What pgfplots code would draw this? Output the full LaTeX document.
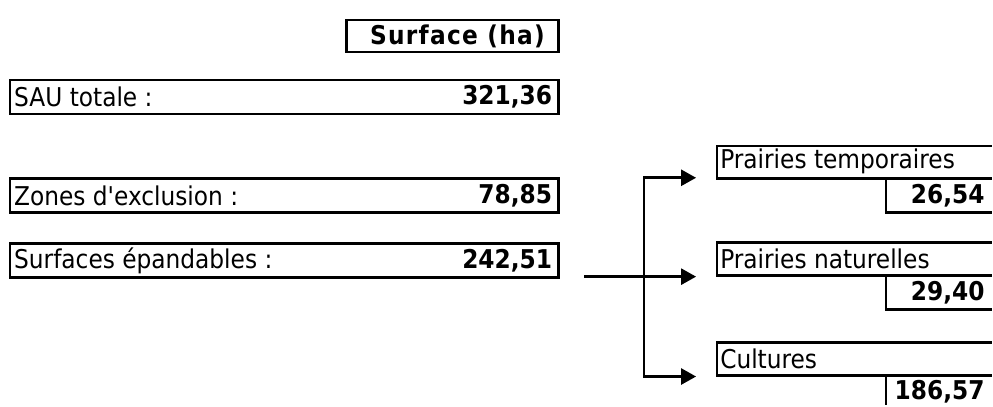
\documentclass[border=0pt]{standalone}
\usepackage{pgfplots}
\pgfplotsset{compat=1.18}
\usepackage{fontspec}
\setmainfont{DejaVu Sans Condensed}[BoldFont={DejaVu Sans Condensed Bold},Ligatures=TeXOff]
\usetikzlibrary{arrows.meta}
\newcommand{\fs}{\fontsize{26}{28}\selectfont}
\begin{document}
\begin{tikzpicture}
\begin{axis}[
  x=1bp, y=1bp, y dir=reverse,
  xmin=0, xmax=993, ymin=0, ymax=406,
  hide axis, clip=false, scale only axis,
]
\path (axis cs:0,0) rectangle (axis cs:993,406);
% left column boxes
\addplot[draw=black, line width=2.6bp, mark=none] coordinates {(347,20) (559,20) (559,52) (347,52)} -- cycle;
\addplot[draw=black, line width=2.6bp, mark=none] coordinates {(10,80) (559,80) (559,114) (10,114)} -- cycle;
\addplot[draw=black, line width=2.6bp, mark=none] coordinates {(10,179) (559,179) (559,213) (10,213)} -- cycle;
\addplot[draw=black, line width=2.6bp, mark=none] coordinates {(10,244) (559,244) (559,278) (10,278)} -- cycle;
% right column boxes (open to the right edge)
\addplot[draw=black, line width=2.6bp, mark=none] coordinates {(993,146) (718,146) (718,179) (993,179)};
\addplot[draw=black, line width=2.6bp, mark=none] coordinates {(887,179) (887,213) (993,213)};
\addplot[draw=black, line width=2.6bp, mark=none] coordinates {(993,243) (718,243) (718,276) (993,276)};
\addplot[draw=black, line width=2.6bp, mark=none] coordinates {(887,276) (887,310) (993,310)};
\addplot[draw=black, line width=2.6bp, mark=none] coordinates {(993,343) (718,343) (718,376) (993,376)};
\addplot[draw=black, line width=2.6bp, mark=none] coordinates {(887,376) (887,406)};
% arrows
\addplot[draw=black, line width=2.6bp, mark=none, -{Triangle[length=15bp,width=16bp]}] coordinates {(585,277) (697,277)};
\addplot[draw=black, line width=2.6bp, mark=none, -{Triangle[length=15bp,width=16bp]}] coordinates {(645,277) (645,178) (697,178)};
\addplot[draw=black, line width=2.6bp, mark=none, -{Triangle[length=15bp,width=16bp]}] coordinates {(645,277) (645,377) (697,377)};
% texts
\node[font=\fs\bfseries\addfontfeature{LetterSpace=5}] at (axis cs:458,36) {Surface (ha)};
\node[anchor=west, font=\fs, inner sep=0pt] at (axis cs:14,97) {SAU totale :};
\node[anchor=east, font=\fs\bfseries, inner sep=0pt] at (axis cs:553,97) {321,36};
\node[anchor=west, font=\fs, inner sep=0pt] at (axis cs:14,196) {Zones d'exclusion :};
\node[anchor=east, font=\fs\bfseries, inner sep=0pt] at (axis cs:553,196) {78,85};
\node[anchor=west, font=\fs, inner sep=0pt] at (axis cs:14,261) {Surfaces épandables :};
\node[anchor=east, font=\fs\bfseries, inner sep=0pt] at (axis cs:553,261) {242,51};
\node[anchor=west, font=\fs, inner sep=0pt] at (axis cs:721,162) {Prairies temporaires};
\node[anchor=east, font=\fs\bfseries, inner sep=0pt] at (axis cs:986,196) {26,54};
\node[anchor=west, font=\fs, inner sep=0pt] at (axis cs:721,259) {Prairies naturelles};
\node[anchor=east, font=\fs\bfseries, inner sep=0pt] at (axis cs:986,293) {29,40};
\node[anchor=west, font=\fs, inner sep=0pt] at (axis cs:721,359) {Cultures};
\node[anchor=east, font=\fs\bfseries, inner sep=0pt] at (axis cs:986,392) {186,57};
\end{axis}
\end{tikzpicture}
\end{document}
